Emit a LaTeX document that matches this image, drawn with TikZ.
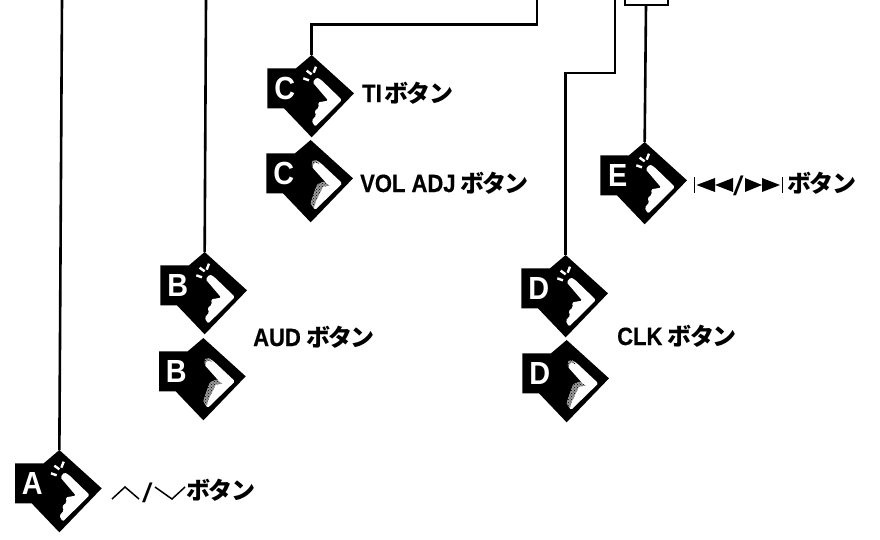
\documentclass[tikz,border=0pt]{standalone}
\usepackage{fontspec}
\usetikzlibrary{patterns}
\newfontfamily\latf[FakeStretch=0.88,FakeBold=0.5]{Liberation Sans}
\newfontfamily\letf[FakeStretch=0.9]{Liberation Sans}
\newfontfamily\slashf[FakeStretch=1.4]{Liberation Sans}
\newfontfamily\jpf{Noto Sans CJK JP}
\tikzset{
  lab/.style={anchor=base west,inner sep=0pt,font=\fontsize{25}{25}\selectfont\latf\bfseries},
  slashlab/.style={anchor=base west,inner sep=0pt,font=\fontsize{27}{27}\selectfont\slashf},
  wire/.style={line width=2.6pt,black,line join=miter},
  letter/.style={white,inner sep=0pt,font=\fontsize{32}{32}\selectfont\letf\bfseries}
}
\newcommand{\btn}{\fontsize{24}{24}\selectfont\jpf\bfseries ボ\kern-1.8ptタ\kern-1.8ptン}
\newcommand{\iconbase}[2]{%
  \fill[black] (155,15) -- (282,130) -- (155,262) -- (72,175) -- (22,175) -- (22,55) -- (108,55) -- cycle;
  \node[letter] (#2) at (74,115) {#1};
}
\newcommand{\iconon}[4]{% x y letter name
  \begin{scope}[shift={(#1,#2)},x=0.3333pt,y=-0.3333pt]
    \iconbase{#3}{#4}
    \coordinate (#4-top) at (155,15);
    \draw[white,line width=2.4pt] (130,85) -- (147,91) (140,62) -- (155,73) (168,50) -- (161,68);
    \fill[white,rounded corners=1.5pt] (158,97) -- (170,82) -- (184,90) -- (246,150) -- (165,230) -- (155,212) -- (169,196) -- (163,184) -- (177,172) -- (174,157) -- (205,152) -- cycle;
  \end{scope}
}
\newcommand{\iconoff}[4]{%
  \begin{scope}[shift={(#1,#2)},x=0.3333pt,y=-0.3333pt]
    \iconbase{#3}{#4}
    \fill[white,rounded corners=1.5pt] (158,95) -- (172,76) -- (186,85) -- (250,145) -- (168,225) -- (155,205) -- (165,175) -- (175,148) -- (195,140) -- (207,150) -- cycle;
    \fill[black!40] (158,92) -- (160,78) -- (172,75) -- (182,88) -- (170,82) -- cycle;
    \fill[pattern=crosshatch dots,pattern color=black] (158,92) -- (160,78) -- (172,75) -- (182,88) -- (170,82) -- cycle;
    \fill[black!40] (155,205) -- (165,175) -- (175,148) -- (195,140) -- (212,152) -- (192,155) -- (180,180) -- (170,200) -- (165,218) -- cycle;
    \fill[pattern=crosshatch dots,pattern color=black] (155,205) -- (165,175) -- (175,148) -- (195,140) -- (212,152) -- (192,155) -- (180,180) -- (170,200) -- (165,218) -- cycle;
  \end{scope}
}
\begin{document}
\begin{tikzpicture}[x=1pt,y=-1pt]
\useasboundingbox (0,0) rectangle (880,539);
\iconon{7.7}{445}{A}{iconA}
\iconon{153}{247}{B}{iconB}
\iconoff{151.7}{333}{B}{iconBb}
\iconon{260}{50}{C}{iconC}
\iconoff{259}{135}{C}{iconCb}
\iconon{514}{250}{D}{iconD}
\iconoff{515}{335}{D}{iconDb}
\iconon{593}{137}{E}{iconE}
% free ends
\coordinate (fa) at (62,0);
\coordinate (fb) at (206,0);
\coordinate (fc) at (537,0);
\coordinate (fd) at (615,0);
\coordinate (kneed) at (615,73);
\coordinate (kneec) at (537,24.5);
\coordinate (boxbl) at (625,0);
\coordinate (boxbr) at (668,0);
\coordinate (boxb) at (646,5);
\draw[wire] (fa) -- (iconA-top);
\draw[wire] (fb) -- (iconB-top);
\draw[wire] (fc) -- (kneec) -| (iconC-top);
\draw[wire] (fd) -- (kneed) -| (iconD-top);
\draw[wire,line width=2pt] (boxbl) |- (boxb) -| (boxbr);
\draw[wire] (boxb) -- (iconE-top);
% labels
\node[lab] (lti) at (362,102) {TI\kern3pt\btn};
\node[lab] (lvol) at (360,192) {VOL ADJ\kern4.5pt\btn};
\node[lab] (laud) at (253,346) {AUD\kern5.5pt\btn};
\node[lab] (lclk) at (617,345) {CLK\kern5.5pt\btn};
\node[lab] (le) at (787.5,192) {\btn};
\node[lab] (la) at (186.5,499) {\btn};
\node[slashlab] (sa) at (142,502) {/};
\node[slashlab] (se) at (733,195) {/};
% chevrons
\draw[line width=1.5pt] (112,499) -- (125,487) -- (139,499);
\draw[line width=1.5pt] (155,487) -- (172,499) -- (185,487);
% skip symbols
\draw[line width=1pt] (694.3,177) -- (694.3,193);
\fill (696.5,185) -- (715,178) -- (715,192) -- cycle;
\fill (715,185) -- (733,178) -- (733,192) -- cycle;
\fill (745,178) -- (762,185) -- (745,192) -- cycle;
\fill (762,178) -- (780,185) -- (762,192) -- cycle;
\draw[line width=1pt] (782.5,177) -- (782.5,193);
\end{tikzpicture}
\end{document}
